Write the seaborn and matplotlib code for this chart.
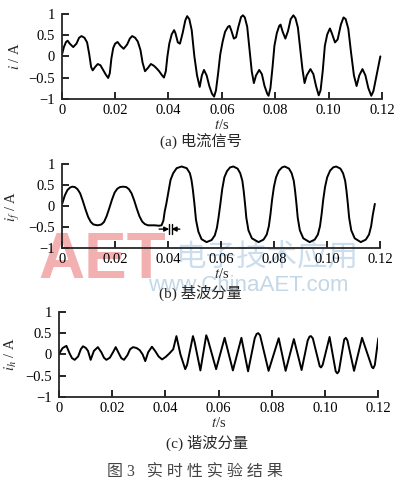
import numpy as np
import matplotlib
matplotlib.use('Agg')
import matplotlib.pyplot as plt
import seaborn as sns

# values: time in ms, current in A
# (a) current signal
t_a = [0, 0.8, 1.6, 2.2, 3.0, 4.3, 5.5, 6.5, 7.4, 8.5,
       9.5, 10.3, 11.0, 11.6, 12.5, 13.5, 14.5, 15.5, 16.5, 17.4,
       18.0, 18.6, 19.3, 20.0, 20.9, 22.0, 23.2, 24.5, 25.5, 26.4,
       27.5, 28.5, 29.5, 30.3, 31.2, 32.2, 33.4, 34.5, 35.5, 36.5,
       37.5, 38.3, 39.0, 39.6, 40.3, 41.2, 42.1, 42.6, 43.5, 44.3,
       45.3, 46.3, 47.0, 47.8, 48.7, 49.7, 50.7, 51.7, 52.5, 53.3,
       54.3, 55.3, 56.3, 57.1, 57.8, 58.6, 59.4, 60.3, 61.2, 62.3,
       62.9, 63.5, 64.5, 65.3, 66.2, 67.2, 67.9, 68.6, 69.5, 70.4,
       71.2, 72.0, 72.8, 74.0, 75.0, 76.0, 77.0, 77.5, 78.2, 79.0,
       79.7, 80.6, 81.5, 82.0, 82.8, 83.8, 84.8, 85.8, 86.8, 87.6,
       88.5, 89.4, 90.2, 91.0, 91.8, 93.2, 94.3, 95.3, 96.3, 97.0,
       97.8, 98.6, 99.5, 100.5, 101.2, 102.4, 103.4, 104.6, 105.6, 106.4,
       107.4, 108.4, 109.5, 110.5, 111.5, 112.7, 113.8, 114.9, 116.0, 116.8,
       117.8, 118.7, 119.4]
i_a = [0.02, 0.22, 0.34, 0.37, 0.30, 0.22, 0.30, 0.44, 0.48, 0.44,
       0.33, 0.05, -0.25, -0.33, -0.25, -0.18, -0.21, -0.32, -0.43, -0.51,
       -0.40, -0.05, 0.20, 0.30, 0.34, 0.25, 0.18, 0.28, 0.42, 0.48,
       0.44, 0.35, 0.15, -0.15, -0.35, -0.28, -0.18, -0.22, -0.28, -0.35,
       -0.44, -0.50, -0.35, 0.00, 0.30, 0.52, 0.62, 0.55, 0.33, 0.30,
       0.55, 0.85, 0.95, 0.88, 0.62, 0.00, -0.45, -0.72, -0.45, -0.32,
       -0.45, -0.70, -0.88, -0.95, -0.80, -0.40, 0.05, 0.35, 0.58, 0.70,
       0.72, 0.62, 0.42, 0.45, 0.70, 0.93, 0.97, 0.92, 0.70, 0.15,
       -0.35, -0.63, -0.45, -0.32, -0.42, -0.70, -0.88, -0.93, -0.75, -0.25,
       0.25, 0.55, 0.72, 0.75, 0.58, 0.42, 0.60, 0.88, 0.97, 0.90,
       0.68, 0.15, -0.30, -0.63, -0.45, -0.30, -0.42, -0.70, -0.92, -0.80,
       -0.35, 0.25, 0.52, 0.66, 0.55, 0.33, 0.40, 0.75, 0.92, 0.88,
       0.65, 0.10, -0.45, -0.70, -0.45, -0.30, -0.45, -0.75, -0.93, -0.82,
       -0.50, -0.20, 0.00]

# (b) fundamental component
t_f = [0, 1.0, 2.0, 3.0, 3.8, 4.8, 5.8, 6.8, 7.8, 8.8,
       9.8, 10.8, 11.8, 13.4, 14.8, 15.8, 16.8, 17.8, 18.8, 19.8,
       20.8, 21.8, 23.0, 24.2, 25.2, 26.2, 27.2, 28.2, 29.2, 30.2,
       31.2, 32.4, 33.6, 35.0, 36.5, 37.5, 38.2, 38.7, 39.3, 40.0,
       40.9, 41.9, 43.2, 45.1, 47.0, 48.2, 48.8, 49.3, 49.9, 50.5,
       51.4, 52.6, 54.5, 56.4, 57.6, 58.4, 59.0, 59.7, 60.4, 61.2,
       62.2, 63.4, 64.6, 66.2, 67.2, 68.0, 68.5, 69.0, 69.5, 70.3,
       71.6, 74.1, 76.0, 77.2, 78.0, 78.6, 79.2, 79.9, 80.7, 81.8,
       83.0, 84.0, 85.6, 86.6, 87.4, 87.9, 88.4, 88.9, 89.7, 91.0,
       93.4, 95.3, 96.5, 97.3, 97.9, 98.5, 99.2, 100.0, 101.1, 102.3,
       103.4, 105.0, 106.0, 106.8, 107.3, 107.8, 108.3, 109.1, 110.4, 112.7,
       114.6, 115.8, 116.6, 117.2, 118.0]
i_f = [0.05, 0.25, 0.38, 0.44, 0.46, 0.45, 0.40, 0.30, 0.12, -0.08,
       -0.26, -0.38, -0.44, -0.46, -0.44, -0.38, -0.24, -0.05, 0.15, 0.32,
       0.41, 0.45, 0.46, 0.45, 0.40, 0.30, 0.13, -0.07, -0.25, -0.37,
       -0.43, -0.46, -0.46, -0.46, -0.47, -0.46, -0.35, -0.13, 0.05, 0.30,
       0.62, 0.78, 0.90, 0.94, 0.90, 0.78, 0.62, 0.40, 0.06, -0.33,
       -0.61, -0.79, -0.86, -0.81, -0.70, -0.52, -0.28, 0.05, 0.40, 0.68,
       0.83, 0.92, 0.94, 0.89, 0.78, 0.60, 0.36, 0.06, -0.28, -0.58,
       -0.77, -0.86, -0.80, -0.68, -0.48, -0.20, 0.14, 0.45, 0.68, 0.84,
       0.92, 0.94, 0.89, 0.78, 0.60, 0.36, 0.06, -0.28, -0.58, -0.77,
       -0.86, -0.80, -0.68, -0.48, -0.20, 0.14, 0.45, 0.68, 0.84, 0.92,
       0.94, 0.89, 0.78, 0.60, 0.36, 0.06, -0.28, -0.58, -0.77, -0.86,
       -0.80, -0.68, -0.48, -0.22, 0.05]

# (c) harmonic component
t_h = [0.0, 1.5, 2.9, 4.1, 5.0, 6.0, 7.3, 8.3, 9.1, 10.2,
       11.0, 12.0, 13.2, 14.7, 16.0, 17.0, 17.9, 19.2, 20.4, 21.4,
       22.6, 23.5, 24.5, 25.8, 26.8, 27.9, 29.2, 30.4, 31.5, 32.5,
       33.6, 35.0, 36.2, 37.5, 38.8, 40.2, 41.7, 43.0, 44.2, 45.7,
       47.5, 48.2, 50.4, 51.0, 53.2, 55.4, 56.0, 59.1, 62.3, 65.4,
       68.6, 71.1, 73.6, 74.3, 74.9, 75.6, 78.8, 82.6, 85.2, 88.3,
       91.2, 93.5, 94.2, 94.7, 95.4, 98.0, 98.5, 99.1, 101.7, 104.0,
       104.6, 105.2, 107.2, 107.8, 108.4, 110.9, 113.9, 117.6, 118.1, 118.7,
       120.0]
i_h = [0.00, 0.15, 0.20, 0.02, -0.09, -0.13, -0.05, 0.12, 0.19, 0.15,
       0.08, -0.13, 0.08, 0.17, 0.05, -0.08, -0.13, -0.08, 0.05, 0.17,
       0.02, -0.09, -0.13, -0.02, 0.12, 0.17, 0.15, 0.10, 0.00, -0.16,
       0.05, 0.18, 0.08, -0.05, -0.12, -0.06, 0.03, 0.12, 0.43, 0.00,
       -0.35, -0.25, 0.43, 0.30, -0.38, 0.45, 0.35, -0.35, 0.39, -0.38,
       0.39, -0.40, 0.38, 0.48, 0.50, 0.45, -0.39, 0.38, -0.39, 0.36,
       -0.37, 0.33, 0.42, 0.43, 0.38, -0.28, -0.31, -0.25, 0.41, -0.40,
       -0.45, -0.40, 0.35, 0.39, 0.33, -0.39, 0.39, -0.30, -0.33, -0.25,
       0.38]

assert len(t_a) == len(i_a) and len(t_f) == len(i_f) and len(t_h) == len(i_h)

x_ticks = [0, 0.02, 0.04, 0.06, 0.08, 0.10, 0.12]
x_tick_labels = ['0', '0.02', '0.04', '0.06', '0.08', '0.10', '0.12']
y_ticks = [-1, -0.5, 0, 0.5, 1]
y_tick_labels = ['\u22121', '\u22120.5', '0', '0.5', '1']

# delay marker on the fundamental plot (ms, A)
delay_bars = [40.4, 41.3]
delay_arrow_from = [36.6, 44.4]
delay_level = -0.55

sns.set_style('ticks')
plt.rcParams['font.family'] = ['Liberation Serif', 'Noto Sans CJK SC']
plt.rcParams['mathtext.fontset'] = 'stix'

fig = plt.figure(figsize=(4.01, 4.84), dpi=100)

# watermark of the source page, kept faint and behind the axes
fig.text(0.255, 0.461, 'AET', fontsize=46, weight='bold', family='Liberation Sans',
         color='#ef8f8f', alpha=0.7, ha='center', va='center', zorder=-1)
fig.text(0.664, 0.469, '电子技术应用', fontsize=22, family='Noto Sans CJK SC',
         color='#b7d1e6', alpha=0.7, ha='center', va='center', zorder=-1)
fig.text(0.618, 0.411, 'www.ChinaAET.com', fontsize=16, family='Liberation Sans',
         color='#b3cde2', alpha=0.8, ha='center', va='center', zorder=-1)


def style_axis(ax, ylab):
    ax.set_facecolor('none')
    ax.set_xlim(0, 0.12)
    ax.set_ylim(-1, 1)
    ax.set_xticks(x_ticks)
    ax.set_xticklabels(x_tick_labels)
    ax.set_yticks(y_ticks)
    ax.set_yticklabels(y_tick_labels)
    sns.despine(ax=ax)
    for s in ['left', 'bottom']:
        ax.spines[s].set_linewidth(1.3)
    ax.tick_params(direction='in', length=5, width=1.2, labelsize=10.5, colors='black')
    ax.tick_params(axis='x', pad=3.5)
    ax.tick_params(axis='y', pad=5)
    ax.set_xlabel('$t$/s', fontsize=10.5)
    ax.xaxis.set_label_coords(0.5, -0.23)
    ax.set_ylabel(ylab, fontsize=10.5)
    ax.yaxis.set_label_coords(-0.125, 0.5)


ax1 = fig.add_axes([0.154, 0.796, 0.7985, 0.175])
sns.lineplot(x=np.array(t_a) / 1000, y=i_a, ax=ax1, color='black', lw=1.4,
             estimator=None, sort=False)
style_axis(ax1, '$i$ / A')

ax2 = fig.add_axes([0.155, 0.4876, 0.793, 0.1736])
sns.lineplot(x=np.array(t_f) / 1000, y=i_f, ax=ax2, color='black', lw=1.4,
             estimator=None, sort=False)
style_axis(ax2, '$i_f$ / A')
for tb in delay_bars:
    ax2.plot([tb / 1000, tb / 1000], [delay_level - 0.11, delay_level + 0.11],
             color='black', lw=1.0)
for t0, tb in zip(delay_arrow_from, delay_bars):
    ax2.annotate('', xy=(tb / 1000, delay_level), xytext=(t0 / 1000, delay_level),
                 arrowprops=dict(arrowstyle='-|>', color='black', lw=1.0,
                                 mutation_scale=7, shrinkA=0, shrinkB=0))

ax3 = fig.add_axes([0.1464, 0.1804, 0.797, 0.175])
sns.lineplot(x=np.array(t_h) / 1000, y=i_h, ax=ax3, color='black', lw=1.4,
             estimator=None, sort=False)
style_axis(ax3, '$i_h$ / A')

fig.text(0.5, 1 - 141 / 484, '(a) 电流信号', fontsize=11, ha='center', va='center')
fig.text(0.5, 1 - 293 / 484, '(b) 基波分量', fontsize=11, ha='center', va='center')
fig.text(0.515, 1 - 443 / 484, '(c) 谐波分量', fontsize=11, ha='center', va='center')
fig.text(0.486, 1 - 473 / 484, '图 3   实 时 性 实 验 结 果', fontsize=11.5,
         color='#444444', ha='center', va='center')

fig.savefig('out.png', dpi=100)
